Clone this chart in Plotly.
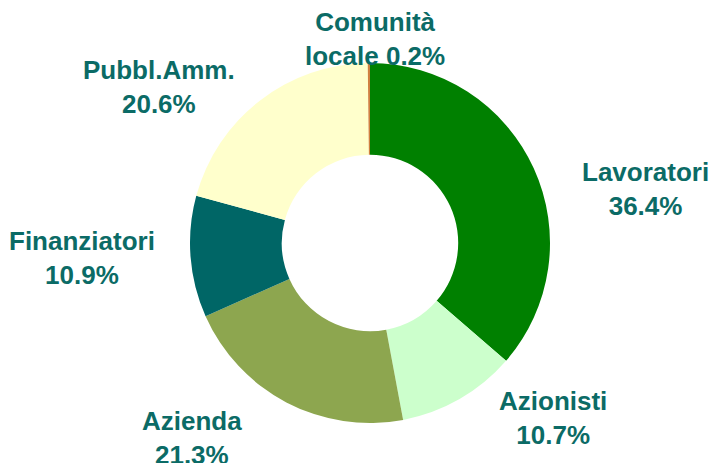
import plotly.graph_objects as go

categories = ["Lavoratori", "Azionisti", "Azienda", "Finanziatori", "Pubbl.Amm.", "Comunità<br>locale"]
values = [36.4, 10.7, 21.3, 10.9, 20.6, 0.2]
colors = ["#008000", "#CCFFCC", "#8DA64F", "#006666", "#FFFFCC", "#D08040"]

W, H = 717, 463
# label centre positions in pixels (layout only)
label_pos = [(637, 181), (545, 410), (184, 430), (74, 250), (151, 79), (367, 31)]

cx, cy, R = 362, 235, 180
fig = go.Figure(go.Pie(
    values=values,
    labels=categories,
    marker=dict(colors=colors, line=dict(width=0)),
    hole=0.49,
    sort=False,
    direction="clockwise",
    rotation=0,
    textinfo="none",
    hoverinfo="label+percent",
    domain=dict(x=[(cx - R) / W, (cx + R) / W], y=[1 - (cy + R) / H, 1 - (cy - R) / H]),
    showlegend=False,
))

for cat, val, (px, py) in zip(categories, values, label_pos):
    if "<br>" in cat:
        txt = f"{cat} {val:.1f}%"
    else:
        txt = f"{cat}<br>{val:.1f}%"
    fig.add_annotation(
        x=px / W, y=1 - py / H, xref="paper", yref="paper",
        text=f"<b>{txt}</b>", showarrow=False,
        font=dict(family="Liberation Sans, Arial", size=26, color="#0B6B66"),
        align="center", xanchor="center", yanchor="middle",
    )

fig.update_layout(
    width=W, height=H,
    margin=dict(l=0, r=0, t=0, b=0),
    paper_bgcolor="white", plot_bgcolor="white",
)
fig.write_html("out.html")
